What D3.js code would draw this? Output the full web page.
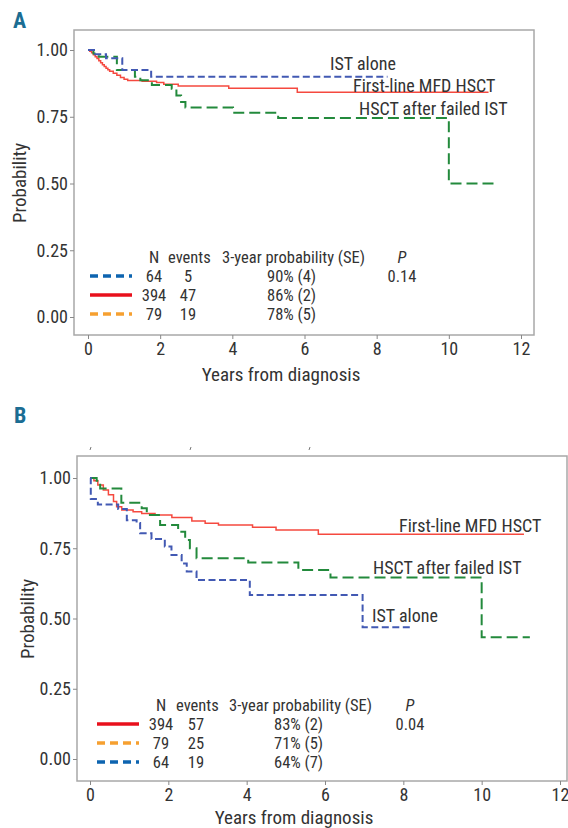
<!DOCTYPE html>
<html>
<head>
<meta charset="utf-8">
<script src="https://cdn.jsdelivr.net/npm/d3@7"></script>
<style>
  body { margin: 0; background: #fff; }
  svg text { font-family: "Liberation Sans Narrow", "Roboto Condensed", "DejaVu Sans Condensed", sans-serif; fill: #333; }
</style>
</head>
<body>
<svg id="chart" width="568" height="828"></svg>
<script>
// axis ticks
var yearTicks = [0, 2, 4, 6, 8, 10, 12];
var probTicks = [0, 0.25, 0.5, 0.75, 1];

// panel A curves (years, survival probability)
var aIstTime  = [0, 0.2, 0.5, 0.95, 1.75, 8.3];
var aIstSurv  = [1, 0.984, 0.969, 0.925, 0.90, 0.90];
var aMfdTime  = [0, 0.05, 0.1, 0.15, 0.2, 0.25, 0.3, 0.35, 0.4, 0.45, 0.5, 0.55, 0.6, 0.7, 0.8, 0.9, 1.0, 1.1, 1.5, 1.9, 2.1, 2.5, 3.9, 5.8, 11.1];
var aMfdSurv  = [1, 0.995, 0.99, 0.982, 0.975, 0.968, 0.96, 0.952, 0.945, 0.938, 0.932, 0.926, 0.92, 0.913, 0.905, 0.897, 0.89, 0.886, 0.883, 0.878, 0.872, 0.865, 0.857, 0.842, 0.842];
var aFailTime = [0, 0.15, 0.3, 0.8, 1.3, 1.45, 1.77, 2.32, 2.45, 2.58, 2.7, 4.02, 5.27, 10.0, 11.28];
var aFailSurv = [1, 0.987, 0.975, 0.925, 0.90, 0.887, 0.869, 0.855, 0.83, 0.805, 0.785, 0.765, 0.745, 0.50, 0.50];

// panel B curves
var bIstTime  = [0, 0.02, 0.2, 0.72, 0.94, 1.19, 1.28, 1.57, 1.91, 2.08, 2.34, 2.47, 2.72, 4.08, 6.96, 8.21];
var bIstSurv  = [1, 0.925, 0.906, 0.89, 0.85, 0.84, 0.803, 0.783, 0.756, 0.726, 0.696, 0.667, 0.637, 0.584, 0.469, 0.469];
var bMfdTime  = [0, 0.1, 0.2, 0.34, 0.47, 0.6, 0.68, 0.81, 1.1, 1.32, 1.66, 2.09, 2.6, 2.94, 3.28, 4.15, 4.75, 5.83, 11.08];
var bMfdSurv  = [1, 0.99, 0.975, 0.957, 0.94, 0.916, 0.898, 0.886, 0.88, 0.874, 0.868, 0.859, 0.847, 0.839, 0.833, 0.825, 0.815, 0.80, 0.80];
var bFailTime = [0, 0.17, 0.26, 0.8, 1.32, 1.45, 1.79, 2.25, 2.43, 2.55, 2.72, 4.04, 5.32, 6.14, 10.0, 11.23];
var bFailSurv = [1, 0.99, 0.963, 0.912, 0.892, 0.868, 0.833, 0.809, 0.779, 0.75, 0.714, 0.699, 0.673, 0.646, 0.433, 0.433];

// curve labels
var curveNames = ["IST alone", "First-line MFD HSCT", "HSCT after failed IST"];

// legend tables
var legendHeader = ["N", "events", "3-year probability (SE)", "P"];
var aLegendN      = [64, 394, 79];
var aLegendEvents = [5, 47, 19];
var aLegendProb   = ["90% (4)", "86% (2)", "78% (5)"];
var aLegendP      = "0.14";
var bLegendN      = [394, 79, 64];
var bLegendEvents = [57, 25, 19];
var bLegendProb   = ["83% (2)", "71% (5)", "64% (7)"];
var bLegendP      = "0.04";

var istColor = "#4259b3", mfdColor = "#f5493f", failColor = "#238a3c";
var legBlue = "#0d64b0", legRed = "#e8101c", legOrange = "#f6a030";

function zip(t, s) { return t.map(function(d, i) { return [d, s[i]]; }); }

var svg = d3.select("#chart");

function drawPanel(cfg) {
	var x = d3.scaleLinear().domain([0, 12]).range([cfg.x0, cfg.x12]);
	var y = d3.scaleLinear().domain([0, 1]).range([cfg.y0, cfg.y1]);
	var g = svg.append("g");

	g.append("text")
	 .attr("x", cfg.letterX).attr("y", cfg.letterY)
	 .attr("font-size", "22px").attr("font-weight", "bold")
	 .style("fill", "#1b6d93")
	 .text(cfg.letter);

	g.append("rect")
	 .attr("x", cfg.left).attr("y", cfg.top)
	 .attr("width", cfg.right - cfg.left).attr("height", cfg.bottom - cfg.top)
	 .attr("fill", "none").attr("stroke", "#a8a8a8").attr("stroke-width", 1.5);

	var xa = g.append("g")
	 .attr("transform", "translate(0," + cfg.bottom + ")")
	 .call(d3.axisBottom(x).tickValues(yearTicks).tickSize(4).tickPadding(3));
	xa.select(".domain").remove();
	xa.selectAll("line").attr("stroke", "#888");
	xa.selectAll("text").attr("font-size", "18px").style("fill", "#333");

	var ya = g.append("g")
	 .attr("transform", "translate(" + cfg.left + ",0)")
	 .call(d3.axisLeft(y).tickValues(probTicks).tickFormat(d3.format(".2f")).tickSize(4).tickPadding(2));
	ya.select(".domain").remove();
	ya.selectAll("line").attr("stroke", "#888");
	ya.selectAll("text").attr("font-size", "18px").style("fill", "#333");

	g.append("text")
	 .attr("x", cfg.titleX).attr("y", cfg.titleY)
	 .attr("text-anchor", "middle").attr("font-size", "19px")
	 .text("Years from diagnosis");

	g.append("text")
	 .attr("transform", "translate(" + cfg.ylabX + "," + cfg.ylabY + ") rotate(-90)")
	 .attr("text-anchor", "middle").attr("font-size", "19px")
	 .text("Probability");

	var line = d3.line()
	 .x(function(d) { return x(d[0]); })
	 .y(function(d) { return y(d[1]); })
	 .curve(d3.curveStepAfter);

	cfg.curves.forEach(function(c) {
		g.append("path")
		 .datum(c.data)
		 .attr("d", line)
		 .attr("fill", "none")
		 .attr("stroke", c.color)
		 .attr("stroke-width", c.width)
		 .attr("stroke-dasharray", c.dash);
	});

	cfg.labels.forEach(function(l) {
		g.append("text")
		 .attr("x", l.x).attr("y", l.y)
		 .attr("dy", "0.35em").attr("font-size", "18px")
		 .text(l.text);
	});

	// legend table
	var L = cfg.legend, fs = "16.5px";
	g.append("text").attr("x", L.colN).attr("y", L.headY).attr("dy", "0.35em")
	 .attr("text-anchor", "middle").attr("font-size", fs).text(legendHeader[0]);
	g.append("text").attr("x", L.colEvStart).attr("y", L.headY).attr("dy", "0.35em")
	 .attr("font-size", fs).text(legendHeader[1]);
	g.append("text").attr("x", L.colHeadProb).attr("y", L.headY).attr("dy", "0.35em")
	 .attr("font-size", fs).text(legendHeader[2]);
	g.append("text").attr("x", L.colP).attr("y", L.headY).attr("dy", "0.35em")
	 .attr("text-anchor", "middle").attr("font-size", fs).attr("font-style", "italic").text(legendHeader[3]);

	L.n.forEach(function(n, i) {
		var ry = L.rowY[i];
		g.append("line")
		 .attr("x1", L.lineX1).attr("x2", L.lineX2).attr("y1", ry).attr("y2", ry)
		 .attr("stroke", L.colors[i]).attr("stroke-width", 3.5)
		 .attr("stroke-dasharray", L.dashes[i]);
		g.append("text").attr("x", L.colN).attr("y", ry).attr("dy", "0.35em")
		 .attr("text-anchor", "middle").attr("font-size", fs).text(n);
		g.append("text").attr("x", L.colEv).attr("y", ry).attr("dy", "0.35em")
		 .attr("text-anchor", "middle").attr("font-size", fs).text(L.events[i]);
		g.append("text").attr("x", L.colProb).attr("y", ry).attr("dy", "0.35em")
		 .attr("font-size", fs).text(L.prob[i]);
	});
	g.append("text").attr("x", L.colP).attr("y", L.rowY[0]).attr("dy", "0.35em")
	 .attr("text-anchor", "middle").attr("font-size", fs).text(L.p);
}

drawPanel({
	letter: "A", letterX: 13, letterY: 28,
	left: 74, right: 534, top: 30, bottom: 335,
	x0: 88, x12: 521, y0: 317, y1: 50,
	titleX: 281, titleY: 381, ylabX: 26, ylabY: 183,
	curves: [
		{ data: zip(aMfdTime, aMfdSurv), color: mfdColor, width: 1.5, dash: null },
		{ data: zip(aFailTime, aFailSurv), color: failColor, width: 2, dash: "11,5" },
		{ data: zip(aIstTime, aIstSurv), color: istColor, width: 2, dash: "7,3.5" }
	],
	labels: [
		{ text: curveNames[0], x: 330, y: 64 },
		{ text: curveNames[1], x: 353, y: 86 },
		{ text: curveNames[2], x: 359, y: 109 }
	],
	legend: {
		headY: 257, rowY: [276, 295, 314],
		lineX1: 90, lineX2: 132,
		colN: 154, colEvStart: 168, colEv: 188, colHeadProb: 222, colProb: 267, colP: 402,
		colors: [legBlue, legRed, legOrange], dashes: ["8,5", null, "8,5"],
		n: aLegendN, events: aLegendEvents, prob: aLegendProb, p: aLegendP
	}
});

drawPanel({
	letter: "B", letterX: 14, letterY: 423,
	left: 77, right: 567, top: 456, bottom: 781,
	x0: 90, x12: 560, y0: 759, y1: 478,
	titleX: 294, titleY: 824, ylabX: 34, ylabY: 619,
	curves: [
		{ data: zip(bMfdTime, bMfdSurv), color: mfdColor, width: 1.5, dash: null },
		{ data: zip(bFailTime, bFailSurv), color: failColor, width: 2, dash: "11,5" },
		{ data: zip(bIstTime, bIstSurv), color: istColor, width: 2, dash: "7,3.5" }
	],
	labels: [
		{ text: curveNames[1], x: 399, y: 526 },
		{ text: curveNames[2], x: 373, y: 568 },
		{ text: curveNames[0], x: 372, y: 616 }
	],
	legend: {
		headY: 705, rowY: [724, 743, 762],
		lineX1: 97, lineX2: 139,
		colN: 161, colEvStart: 176, colEv: 196, colHeadProb: 229, colProb: 274, colP: 410,
		colors: [legRed, legOrange, legBlue], dashes: [null, "8,5", "8,5"],
		n: bLegendN, events: bLegendEvents, prob: bLegendProb, p: bLegendP
	}
});

// stray marks above panel B frame
svg.selectAll(".stray")
 .data([90, 190, 309])
 .enter().append("line")
 .attr("class", "stray")
 .attr("x1", function(d) { return d; }).attr("x2", function(d) { return d + 1; })
 .attr("y1", 450).attr("y2", 447)
 .attr("stroke", "#777").attr("stroke-width", 1);
</script>
</body>
</html>
